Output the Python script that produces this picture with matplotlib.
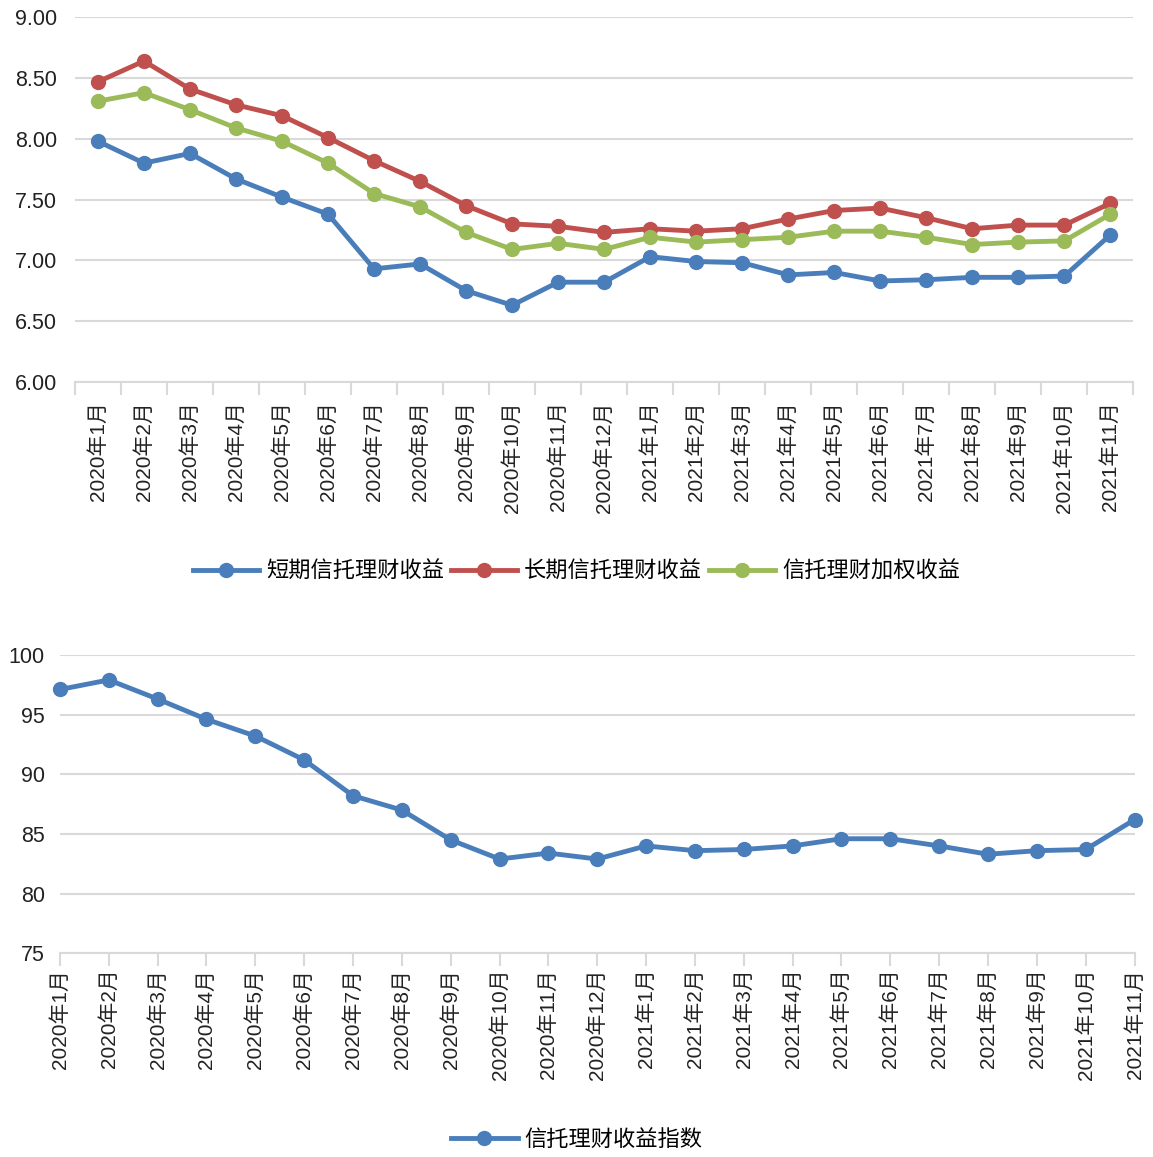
import numpy as np
from matplotlib import pyplot as plt
from matplotlib.ticker import FixedLocator

plt.rcParams['font.family'] = ['Liberation Sans', 'Noto Sans CJK SC', 'DejaVu Sans']

months = ['2020年1月', '2020年2月', '2020年3月', '2020年4月', '2020年5月', '2020年6月',
          '2020年7月', '2020年8月', '2020年9月', '2020年10月', '2020年11月', '2020年12月',
          '2021年1月', '2021年2月', '2021年3月', '2021年4月', '2021年5月', '2021年6月',
          '2021年7月', '2021年8月', '2021年9月', '2021年10月', '2021年11月']

short_term = [7.98, 7.80, 7.88, 7.67, 7.52, 7.38, 6.93, 6.97, 6.75, 6.63, 6.82, 6.82,
              7.03, 6.99, 6.98, 6.88, 6.90, 6.83, 6.84, 6.86, 6.86, 6.87, 7.21]
long_term = [8.47, 8.64, 8.41, 8.28, 8.19, 8.01, 7.82, 7.65, 7.45, 7.30, 7.28, 7.23,
             7.26, 7.24, 7.26, 7.34, 7.41, 7.43, 7.35, 7.26, 7.29, 7.29, 7.47]
weighted = [8.31, 8.38, 8.24, 8.09, 7.98, 7.80, 7.55, 7.44, 7.23, 7.09, 7.14, 7.09,
            7.19, 7.15, 7.17, 7.19, 7.24, 7.24, 7.19, 7.13, 7.15, 7.16, 7.38]
index_vals = [97.1, 97.9, 96.3, 94.6, 93.2, 91.2, 88.2, 87.0, 84.5, 82.9, 83.4, 82.9,
              84.0, 83.6, 83.7, 84.0, 84.6, 84.6, 84.0, 83.3, 83.6, 83.7, 86.2]

blue = '#4a7ebb'
red = '#c0504d'
green = '#9bbb59'
grid_c = '#d9d9d9'
cjk = ['Noto Sans CJK SC', 'DejaVu Sans']

fig = plt.figure(figsize=(11.53, 11.57), dpi=100)
x = np.arange(len(months))


def style_axis(ax):
    for s in ['top', 'right', 'left']:
        ax.spines[s].set_visible(False)
    ax.spines['bottom'].set_color(grid_c)
    ax.spines['bottom'].set_linewidth(1.5)
    ax.yaxis.grid(True, color=grid_c, linewidth=1.5)
    ax.set_axisbelow(True)
    ax.tick_params(axis='y', length=0, labelsize=15.5, colors='#222222')
    ax.tick_params(axis='x', labelsize=15, colors='#222222')


# top chart
ax1 = fig.add_axes([0.065, 0.670, 0.918, 0.315])
ax1.plot(x, short_term, color=blue, lw=3.5, marker='o', ms=10, label='短期信托理财收益')
ax1.plot(x, long_term, color=red, lw=3.5, marker='o', ms=10, label='长期信托理财收益')
ax1.plot(x, weighted, color=green, lw=3.5, marker='o', ms=10, label='信托理财加权收益')
ax1.set_xlim(-0.5, len(months) - 0.5)
ax1.set_ylim(6, 9)
ax1.set_yticks(np.arange(6, 9.01, 0.5))
ax1.set_yticklabels(['%.2f' % v for v in np.arange(6, 9.01, 0.5)])
style_axis(ax1)
ax1.set_xticks(x)
ax1.set_xticklabels(months, rotation=90)
ax1.tick_params(axis='x', which='major', length=0, pad=14)
ax1.xaxis.set_minor_locator(FixedLocator(np.arange(-0.5, len(months), 1)))
ax1.tick_params(axis='x', which='minor', length=9, width=1.5, color=grid_c)
ax1.tick_params(axis='y', pad=13)

fig.legend(*ax1.get_legend_handles_labels(), loc='center', bbox_to_anchor=(0.5, 0.506),
           ncol=3, frameon=False, handlelength=3.0, columnspacing=0.3, handletextpad=0.3,
           prop={'family': cjk, 'size': 16})

# bottom chart
ax2 = fig.add_axes([0.052, 0.176, 0.932, 0.258])
ax2.plot(x, index_vals, color=blue, lw=3.5, marker='o', ms=10, label='信托理财收益指数')
ax2.set_xlim(0, len(months) - 1)
ax2.set_ylim(75, 100)
ax2.set_yticks(np.arange(75, 101, 5))
style_axis(ax2)
ax2.set_xticks(x)
ax2.set_xticklabels(months, rotation=90)
ax2.tick_params(axis='x', which='major', length=9, width=1.5, color=grid_c, pad=2)
ax2.tick_params(axis='y', pad=11)

fig.legend(*ax2.get_legend_handles_labels(), loc='center', bbox_to_anchor=(0.5, 0.015),
           ncol=1, frameon=False, handlelength=3.0, handletextpad=0.3,
           prop={'family': cjk, 'size': 16})

for ln in ax2.get_lines() + ax1.get_lines():
    ln.set_clip_on(False)

fig.savefig('out.png', dpi=100)
